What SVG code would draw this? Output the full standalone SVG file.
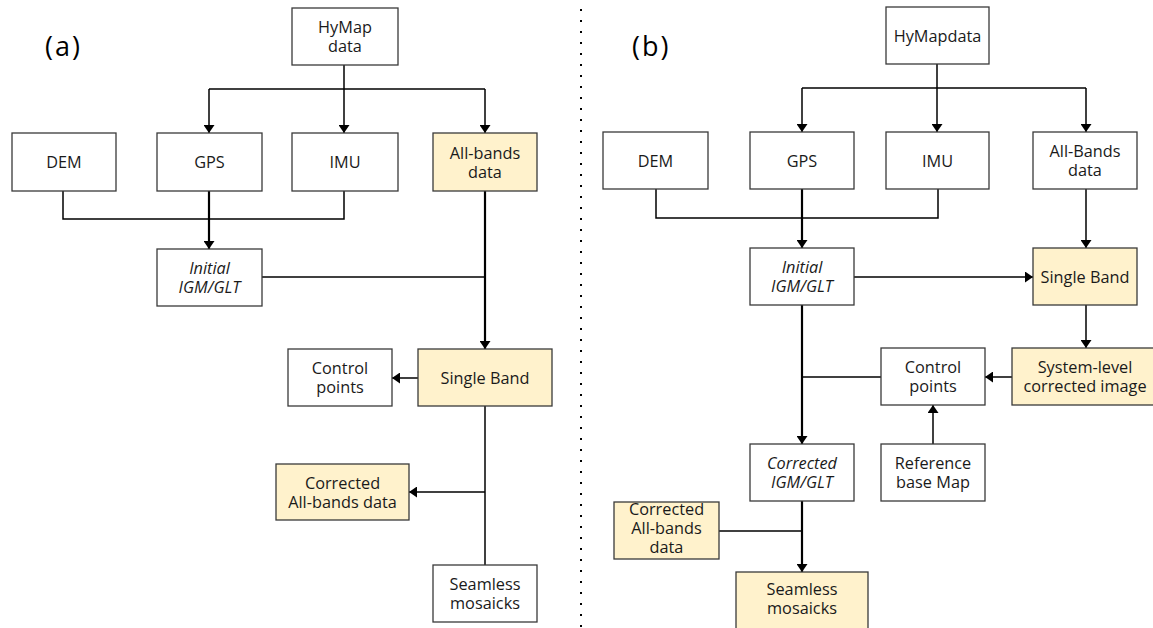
<svg xmlns="http://www.w3.org/2000/svg" width="1153" height="628" viewBox="0 0 1153 628">
<style>
.box{fill:#fff;stroke:#3a3a3a;stroke-width:1.3}
.hl{fill:#fff2cc;stroke:#3a3a3a;stroke-width:1.3}
text{font-family:"Open Sans","Noto Sans",sans-serif;font-size:16.3px;fill:#1a1a1a;text-anchor:middle}
.it{font-style:italic}
.lbl{font-size:27px;text-anchor:start;letter-spacing:2px;fill:#000}
.c{fill:none;stroke:#000;stroke-width:1.5}
.t{fill:none;stroke:#000;stroke-width:2.2}
.a{marker-end:url(#ah)}
</style>
<defs>
<marker id="ah" markerUnits="userSpaceOnUse" viewBox="0 0 8 11" markerWidth="8" markerHeight="11" refX="8" refY="5.5" orient="auto">
<path d="M0,0 L8,5.5 L0,11 z" fill="#000"/>
</marker>
</defs>
<rect width="1153" height="628" fill="#fff"/>
<line x1="581" y1="9" x2="581" y2="628" stroke="#000" stroke-width="2" stroke-dasharray="2 9"/>
<text class="lbl" x="45" y="56">(a)</text>
<text class="lbl" x="632" y="56">(b)</text>
<g id="connectors">
<path class="c a" d="M344,65 V133"/>
<path class="c" d="M209,89 H485"/>
<path class="c a" d="M209,89 V133"/>
<path class="c a" d="M485,89 V133"/>
<path class="c" d="M63,191 V219 H344 V191"/>
<path class="t a" d="M209,191 V249"/>
<path class="c" d="M262,277 H485"/>
<path class="t a" d="M485,191 V349"/>
<path class="c a" d="M418,378 H392"/>
<path class="c" d="M485,406 V565"/>
<path class="c a" d="M485,492 H409"/>
<path class="c a" d="M937,64 V132"/>
<path class="c" d="M802,88 H1086"/>
<path class="c a" d="M802,88 V132"/>
<path class="c a" d="M1086,88 V132"/>
<path class="c" d="M656,189 V218 H938 V189"/>
<path class="t a" d="M802,189 V248"/>
<path class="c a" d="M854,277 H1033"/>
<path class="c a" d="M1086,189 V248"/>
<path class="c a" d="M1086,305 V348"/>
<path class="c a" d="M1012,377 H985"/>
<path class="c" d="M881,377 H802"/>
<path class="t a" d="M802,305 V444"/>
<path class="c a" d="M933,444 V405"/>
<path class="t a" d="M802,501 V572"/>
<path class="c" d="M719,531 H802"/>
</g>
<g id="a-hymap"><rect class="box" x="292" y="8" width="106" height="57"/><text x="345" y="33">HyMap</text><text x="345" y="52">data</text></g>
<g id="a-dem"><rect class="box" x="12" y="133" width="104" height="58"/><text x="64" y="168">DEM</text></g>
<g id="a-gps"><rect class="box" x="157" y="133" width="105" height="58"/><text x="209.5" y="168">GPS</text></g>
<g id="a-imu"><rect class="box" x="292" y="133" width="106" height="58"/><text x="345" y="168">IMU</text></g>
<g id="a-allbands"><rect class="hl" x="433" y="133" width="104" height="58"/><text x="485" y="158.5">All-bands</text><text x="485" y="177.5">data</text></g>
<g id="a-initial"><rect class="box" x="157" y="249" width="105" height="57"/><text class="it" x="209.5" y="274">Initial</text><text class="it" x="209.5" y="293">IGM/GLT</text></g>
<g id="a-control"><rect class="box" x="288" y="349" width="104" height="57"/><text x="340" y="374">Control</text><text x="340" y="393">points</text></g>
<g id="a-single"><rect class="hl" x="418" y="349" width="134" height="57"/><text x="485" y="383.5">Single Band</text></g>
<g id="a-corrected"><rect class="hl" x="276" y="464" width="133" height="56"/><text x="342.5" y="488.5">Corrected</text><text x="342.5" y="507.5">All-bands data</text></g>
<g id="a-seamless"><rect class="box" x="433" y="565" width="104" height="57"/><text x="485" y="590">Seamless</text><text x="485" y="609">mosaicks</text></g>
<g id="b-hymap"><rect class="box" x="886" y="7" width="103" height="57"/><text x="937.5" y="41.5">HyMapdata</text></g>
<g id="b-dem"><rect class="box" x="603" y="132" width="105" height="57"/><text x="655.5" y="166.5">DEM</text></g>
<g id="b-gps"><rect class="box" x="750" y="132" width="104" height="57"/><text x="802" y="166.5">GPS</text></g>
<g id="b-imu"><rect class="box" x="886" y="132" width="103" height="57"/><text x="937.5" y="166.5">IMU</text></g>
<g id="b-allbands"><rect class="box" x="1033" y="132" width="104" height="57"/><text x="1085" y="157">All-Bands</text><text x="1085" y="176">data</text></g>
<g id="b-initial"><rect class="box" x="750" y="248" width="104" height="57"/><text class="it" x="802" y="273">Initial</text><text class="it" x="802" y="292">IGM/GLT</text></g>
<g id="b-single"><rect class="hl" x="1033" y="248" width="104" height="57"/><text x="1085" y="282.5">Single Band</text></g>
<g id="b-system"><rect class="hl" x="1012" y="348" width="148" height="57"/><text x="1085" y="373">System-level</text><text x="1085" y="392">corrected image</text></g>
<g id="b-control"><rect class="box" x="881" y="348" width="104" height="57"/><text x="933" y="373">Control</text><text x="933" y="392">points</text></g>
<g id="b-reference"><rect class="box" x="881" y="444" width="104" height="57"/><text x="933" y="469">Reference</text><text x="933" y="488">base Map</text></g>
<g id="b-corrigm"><rect class="box" x="750" y="444" width="104" height="57"/><text class="it" x="802" y="469">Corrected</text><text class="it" x="802" y="488">IGM/GLT</text></g>
<g id="b-corrall"><rect class="hl" x="614" y="502" width="105" height="57"/><text x="666.5" y="515">Corrected</text><text x="666.5" y="534">All-bands</text><text x="666.5" y="553">data</text></g>
<g id="b-seamless"><rect class="hl" x="736" y="572" width="132" height="60"/><text x="802" y="595">Seamless</text><text x="802" y="614">mosaicks</text></g>
</svg>
